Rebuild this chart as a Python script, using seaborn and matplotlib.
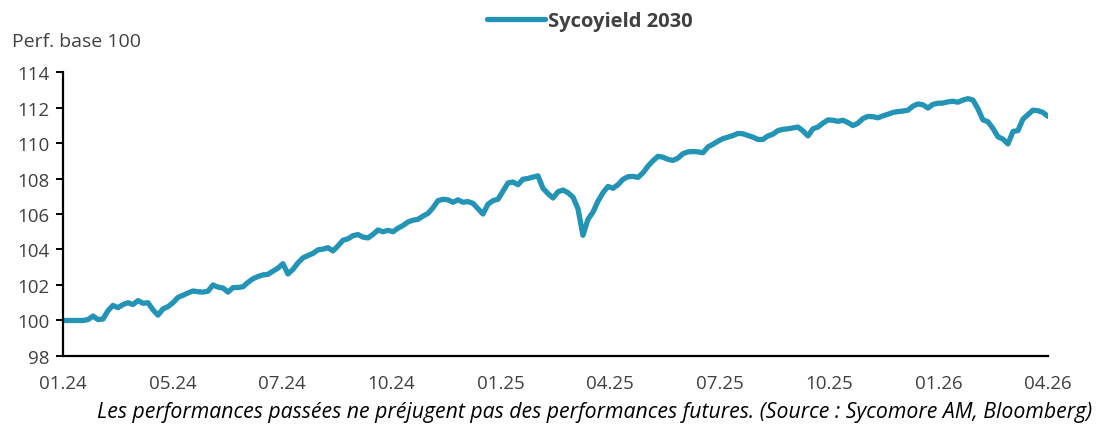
import numpy as np
import pandas as pd
import matplotlib
matplotlib.use("Agg")
import matplotlib.pyplot as plt
import seaborn as sns

# Sycoyield 2030, perf. base 100 (evenly spaced in time)
perf = [
    100.0, 100.0, 100.0, 100.0, 100.0, 100.05, 100.25, 100.05, 100.08, 100.55,
    100.85, 100.72, 100.9, 101.0, 100.9, 101.12, 100.97, 101.0, 100.6, 100.3,
    100.65, 100.78, 101.0, 101.3, 101.42, 101.55, 101.66, 101.62, 101.6, 101.65,
    102.0, 101.88, 101.83, 101.6, 101.85, 101.86, 101.9, 102.15, 102.35, 102.48,
    102.57, 102.6, 102.78, 102.95, 103.2, 102.62, 102.88, 103.25, 103.53, 103.66,
    103.78, 103.98, 104.02, 104.1, 103.92, 104.2, 104.52, 104.6, 104.78, 104.84,
    104.7, 104.65, 104.85, 105.1, 105.0, 105.08, 105.0, 105.2, 105.35, 105.55,
    105.65, 105.7, 105.88, 106.03, 106.35, 106.75, 106.83, 106.8, 106.66, 106.8,
    106.66, 106.7, 106.6, 106.3, 106.0, 106.55, 106.75, 106.83, 107.28, 107.75,
    107.8, 107.65, 107.96, 108.0, 108.08, 108.15, 107.45, 107.15, 106.9, 107.25,
    107.35, 107.2, 106.95, 106.3, 104.8, 105.7, 106.1, 106.72, 107.2, 107.55,
    107.45, 107.65, 107.95, 108.1, 108.12, 108.06, 108.32, 108.7, 109.0, 109.25,
    109.2, 109.08, 109.02, 109.15, 109.4, 109.5, 109.52, 109.5, 109.45, 109.78,
    109.93, 110.1, 110.25, 110.33, 110.42, 110.54, 110.52, 110.42, 110.33, 110.2,
    110.2, 110.4, 110.5, 110.7, 110.77, 110.8, 110.85, 110.9, 110.68, 110.4,
    110.8, 110.9, 111.12, 111.3, 111.28, 111.22, 111.28, 111.15, 110.98, 111.12,
    111.38, 111.5, 111.48, 111.42, 111.53, 111.62, 111.72, 111.77, 111.8, 111.85,
    112.08, 112.2, 112.15, 111.97, 112.18, 112.24, 112.25, 112.32, 112.35, 112.3,
    112.42, 112.5, 112.42, 111.92, 111.3, 111.2, 110.82, 110.35, 110.22, 109.95,
    110.65, 110.7, 111.35, 111.6, 111.85, 111.82, 111.72, 111.5,
]
date_labels = ["01.24", "05.24", "07.24", "10.24", "01.25",
               "04.25", "07.25", "10.25", "01.26", "04.26"]
y_ticks = [98, 100, 102, 104, 106, 108, 110, 112, 114]
series_name = "Sycoyield 2030"

df = pd.DataFrame({"t": np.arange(len(perf)), "perf": perf})

sns.set_style("white")
plt.rcParams["font.family"] = ["Open Sans", "DejaVu Sans"]

fig = plt.figure(figsize=(10.97, 4.27), dpi=100)
ax = fig.add_axes([0.0574, 0.164, 0.8979, 0.665])

sns.lineplot(data=df, x="t", y="perf", ax=ax, color="#2393b6", linewidth=3.8,
             label=series_name, solid_capstyle="round", solid_joinstyle="round")

ax.set_xlim(0, len(perf) - 1)
ax.set_ylim(98, 114)
ax.set_yticks(y_ticks)
ax.set_yticklabels([str(v) for v in y_ticks])
ax.set_xticks(np.linspace(0, len(perf) - 1, len(date_labels)))
ax.set_xticklabels(date_labels)
ax.set_xlabel("")
ax.set_ylabel("")

for s in ["top", "right"]:
    ax.spines[s].set_visible(False)
for s in ["left", "bottom"]:
    ax.spines[s].set_color("black")
    ax.spines[s].set_linewidth(1.6)

ax.tick_params(axis="y", direction="out", length=5, width=1.4, color="black",
               labelsize=13.5, labelcolor="#404040", pad=5, left=True)
ax.tick_params(axis="x", length=0, labelsize=13.5, labelcolor="#404040", pad=13)

fig.text(0.011, 0.902, "Perf. base 100", fontsize=14, color="#404040", ha="left", va="center")

leg = ax.legend(loc="center", bbox_to_anchor=(0.535, 1.179), frameon=False,
                handlelength=2.9, handletextpad=0.15, fontsize=14.5)
for t in leg.get_texts():
    t.set_fontweight("bold")
    t.set_color("#404040")

fig.text(0.996, 0.035,
         "Les performances passées ne préjugent pas des performances futures. (Source : Sycomore AM, Bloomberg)",
         fontsize=15.3, style="italic", color="black", ha="right", va="center")

fig.savefig("out.png", dpi=100)
